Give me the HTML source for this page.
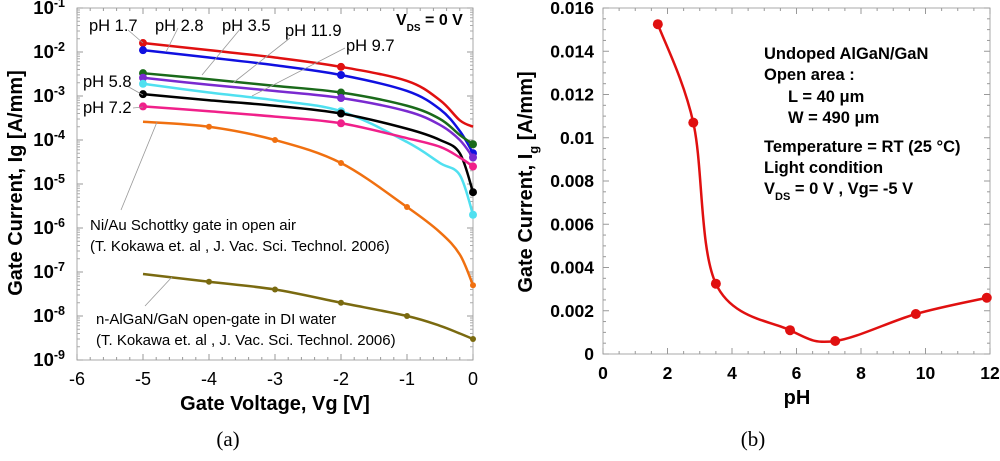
<!DOCTYPE html>
<html><head><meta charset="utf-8"><style>
body{margin:0;background:#fff;width:1000px;height:461px;overflow:hidden}
svg{display:block;font-family:"Liberation Sans",Arial,sans-serif}
</style></head><body>
<svg id="s" width="1000" height="461" viewBox="0 0 1000 461">
<g id="A"></g>
<g id="B"></g>
</svg>
<script>
// ---- Panel (a) data ----
const vgA = [-5,-4,-3,-2,-1,-0.5,-0.2,0];
const ph17 = [0.016,0.011,0.0075,0.0046,0.0022,0.0008,0.00028,0.0002];
const ph28 = [0.011,0.0075,0.005,0.003,0.0013,0.0005,0.00016,0.00005];
const ph35 = [0.0033,0.0024,0.0017,0.0012,0.0006,0.0003,0.00013,0.00008];
const ph119 = [0.0026,0.0018,0.0013,0.0009,0.00045,0.00022,0.0001,0.00004];
const ph97 = [0.0019,0.0012,0.0008,0.00045,0.00009,0.00003,0.000016,0.000002];
const ph58 = [0.0011,0.0008,0.0006,0.0004,0.00018,0.0001,0.00005,0.0000065];
const ph72 = [0.00058,0.00045,0.00034,0.00024,0.00011,0.00007,0.00004,0.000025];
const niau = [0.00026,0.0002,0.0001,0.00003,0.000003,0.0000008,0.00000025,0.00000005];
const diw = [9e-8,6e-8,4e-8,2e-8,1e-8,6e-9,4e-9,3e-9];
const xTicksA = [-6,-5,-4,-3,-2,-1,0];
const yDecA = [-1,-2,-3,-4,-5,-6,-7,-8,-9];
// ---- Panel (b) data ----
const phB = [1.7,2.8,3.5,5.8,7.2,9.7,11.9];
const igB = [0.01525,0.0107,0.00325,0.0011,0.0006,0.00185,0.0026];
const xTicksB = [0,2,4,6,8,10,12];
const yTicksB = ["0","0.002","0.004","0.006","0.008","0.01","0.012","0.014","0.016"];

const NS="http://www.w3.org/2000/svg";
function mk(p,t,a,txt){const e=document.createElementNS(NS,t);for(const k in a)e.setAttribute(k,a[k]);if(txt!==undefined)e.textContent=txt;p.appendChild(e);return e;}
function cr(pts){let d="M"+pts[0][0]+","+pts[0][1];for(let i=0;i<pts.length-1;i++){const p0=pts[Math.max(i-1,0)],p1=pts[i],p2=pts[i+1],p3=pts[Math.min(i+2,pts.length-1)];const t=6;d+=" C"+(p1[0]+(p2[0]-p0[0])/t)+","+(p1[1]+(p2[1]-p0[1])/t)+" "+(p2[0]-(p3[0]-p1[0])/t)+","+(p2[1]-(p3[1]-p1[1])/t)+" "+p2[0]+","+p2[1];}return d;}

// Panel A axes
const A=document.getElementById('A');
const ax0=77,ax1=473,ay0=8,ay1=360;
const xA=v=>ax0+(v+6)/6*(ax1-ax0);
const yA=v=>ay0+(-1-Math.log10(v))/8*(ay1-ay0);
let box=mk(A,'rect',{x:ax0,y:ay0,width:ax1-ax0,height:ay1-ay0,fill:'none',stroke:'#aaa','stroke-width':1});


for(let v=-6;v<=0.001;v+=0.2){const big=Math.abs(v-Math.round(v))<0.01;const L=big?6:3;const x=xA(v);mk(A,'line',{x1:x,x2:x,y1:ay1,y2:ay1-L,stroke:'#999'});mk(A,'line',{x1:x,x2:x,y1:ay0,y2:ay0+L,stroke:'#999'});}
for(const d of yDecA){const y=yA(Math.pow(10,d));mk(A,'line',{x1:ax0,x2:ax0+6,y1:y,y2:y,stroke:'#999'});mk(A,'line',{x1:ax1,x2:ax1-6,y1:y,y2:y,stroke:'#999'});
 if(d>-9)for(let m=2;m<10;m++){const yy=yA(m*Math.pow(10,d-1));mk(A,'line',{x1:ax0,x2:ax0+3,y1:yy,y2:yy,stroke:'#aaa'});mk(A,'line',{x1:ax1,x2:ax1-3,y1:yy,y2:yy,stroke:'#aaa'});}
 const t=mk(A,'text',{x:ax0-12,y:y+6,'text-anchor':'end','font-size':18.5,'font-weight':'bold'});
 
 
 t.textContent='10';mk(t,'tspan',{dy:-7,'font-size':12.5},String(d));}
for(const v of xTicksA){const t=mk(A,'text',{x:xA(v),y:385,'text-anchor':'middle','font-size':18},String(v));
 
 }
let xl=mk(A,'text',{x:275,y:410,'text-anchor':'middle','font-size':20,'font-weight':'bold'},'Gate Voltage, Vg [V]');


let yl=mk(A,'text',{x:0,y:0,transform:'translate(22,183) rotate(-90)','text-anchor':'middle','font-size':20,'font-weight':'bold'},'Gate Current, Ig [A/mm]');


let ca=mk(A,'text',{x:228,y:446,'text-anchor':'middle','font-size':21,'font-family':'Liberation Serif, serif'},'(a)');



const series=[[ph17,'#e01010',[0,3],'ph-1.7'],[ph28,'#1010e0',[0,3,7],'ph-2.8'],[ph35,'#1a6a1a',[0,3,7],'ph-3.5'],[ph119,'#7a2ad0',[0,3,7],'ph-11.9'],[ph97,'#50e0f0',[0,3,7],'ph-9.7'],[ph58,'#000',[0,3,7],'ph-5.8'],[ph72,'#f0208a',[0,3,7],'ph-7.2'],[niau,'#f07010',[1,2,3,4,7],'ni-au-open-air'],[diw,'#7a6a10',[1,2,3,4,7],'algan-di-water']];
for(const [vals,col,mks,name] of series){const pts=vgA.map((v,i)=>[xA(v),yA(vals[i])]);
 const p=mk(A,'path',{d:cr(pts),fill:'none',stroke:col,'stroke-width':2.5});
 
 
 for(const i of mks){const c=mk(A,'circle',{cx:pts[i][0],cy:pts[i][1],r:(name.startsWith('ph')?4:3),fill:col});
  
  }}
const labs=[['pH 1.7',89,31,128,30,143,43],['pH 2.8',155,31,178,28,166,52],['pH 3.5',222,31,241,28,202,75],['pH 11.9',285,36,290,38,233,83],['pH 9.7',346,51,345,48,252,96],['pH 5.8',83,87,127,86,143,95],['pH 7.2',83,113,133,108,143,107]];
for(const [t,x,y,x1,y1,x2,y2] of labs){mk(A,'line',{x1,y1,x2,y2,stroke:'#999','stroke-width':0.8});
 const e=mk(A,'text',{x,y,'font-size':16.5},t);
 
 }
mk(A,'line',{x1:157,y1:122,x2:121,y2:210,stroke:'#999','stroke-width':0.8});
mk(A,'line',{x1:172,y1:277,x2:145,y2:306,stroke:'#999','stroke-width':0.8});
const notes=[['Ni/Au Schottky gate in open air',90,230],['(T. Kokawa et. al , J. Vac. Sci. Technol. 2006)',90,251],['n-AlGaN/GaN open-gate in DI water',96,324],['(T. Kokawa et. al , J. Vac. Sci. Technol. 2006)',96,345]];
for(const [t,x,y] of notes){const e=mk(A,'text',{x,y,'font-size':15},t);
 
 }
let vds=mk(A,'text',{x:396,y:25,'font-size':16,'font-weight':'bold'},'V');


mk(vds,'tspan',{dy:6,'font-size':10},'DS');mk(vds,'tspan',{dy:-6},' = 0 V');

// Panel B
const B=document.getElementById('B');
const bx0=603,bx1=990,by0=8,by1=354;
const xB=v=>bx0+v/12*(bx1-bx0);
const yB=v=>by1-v/0.016*(by1-by0);
let bb=mk(B,'rect',{x:bx0,y:by0,width:bx1-bx0,height:by1-by0,fill:'none',stroke:'#aaa'});


for(let v=0;v<=12.001;v+=0.5){const big=Math.abs(v/2-Math.round(v/2))<0.01;const L=big?6:3;const x=xB(v);mk(B,'line',{x1:x,x2:x,y1:by1,y2:by1-L,stroke:'#999'});mk(B,'line',{x1:x,x2:x,y1:by0,y2:by0+L,stroke:'#999'});}
for(let k=0;k<=32;k++){const v=k*0.0005;const big=k%4==0;const L=big?6:3;const y=yB(v);mk(B,'line',{x1:bx0,x2:bx0+L,y1:y,y2:y,stroke:'#999'});mk(B,'line',{x1:bx1,x2:bx1-L,y1:y,y2:y,stroke:'#999'});}
yTicksB.forEach(s=>{const t=mk(B,'text',{x:594,y:yB(parseFloat(s))+6,'text-anchor':'end','font-size':17.5,'font-weight':'bold'},s);
 
 });
for(const v of xTicksB){const t=mk(B,'text',{x:xB(v),y:379,'text-anchor':'middle','font-size':17.5,'font-weight':'bold'},String(v));
 
 }
let xlb=mk(B,'text',{x:797,y:404,'text-anchor':'middle','font-size':20,'font-weight':'bold'},'pH');


let ylb=mk(B,'text',{x:0,y:0,transform:'translate(532,182) rotate(-90)','text-anchor':'middle','font-size':20,'font-weight':'bold'},'Gate Current, I');


mk(ylb,'tspan',{dy:6,'font-size':13},'g');mk(ylb,'tspan',{dy:-6},' [A/mm]');
let cb=mk(B,'text',{x:753,y:446,'text-anchor':'middle','font-size':21,'font-family':'Liberation Serif, serif'},'(b)');


const ptsB=phB.map((v,i)=>[xB(v),yB(igB[i])]);
let lb=mk(B,'path',{d:cr(ptsB),fill:'none',stroke:'#e01010','stroke-width':2.5});


for(const p of ptsB){const c=mk(B,'circle',{cx:p[0],cy:p[1],r:5,fill:'#e01010'});
 
 }
const bl=[['Undoped AlGaN/GaN',764,59],['Open area :',764,80],['L = 40 μm',788,102],['W = 490 μm',788,123],['Temperature = RT (25 °C)',764,152],['Light condition',764,173]];
for(const [t,x,y] of bl){const e=mk(B,'text',{x,y,'font-size':16.5,'font-weight':'bold'},t);
 
 }
let vb=mk(B,'text',{x:764,y:194,'font-size':16.5,'font-weight':'bold'},'V');


mk(vb,'tspan',{dy:6,'font-size':11},'DS');mk(vb,'tspan',{dy:-6},' = 0 V , Vg= -5 V');
</script>
</body></html>
